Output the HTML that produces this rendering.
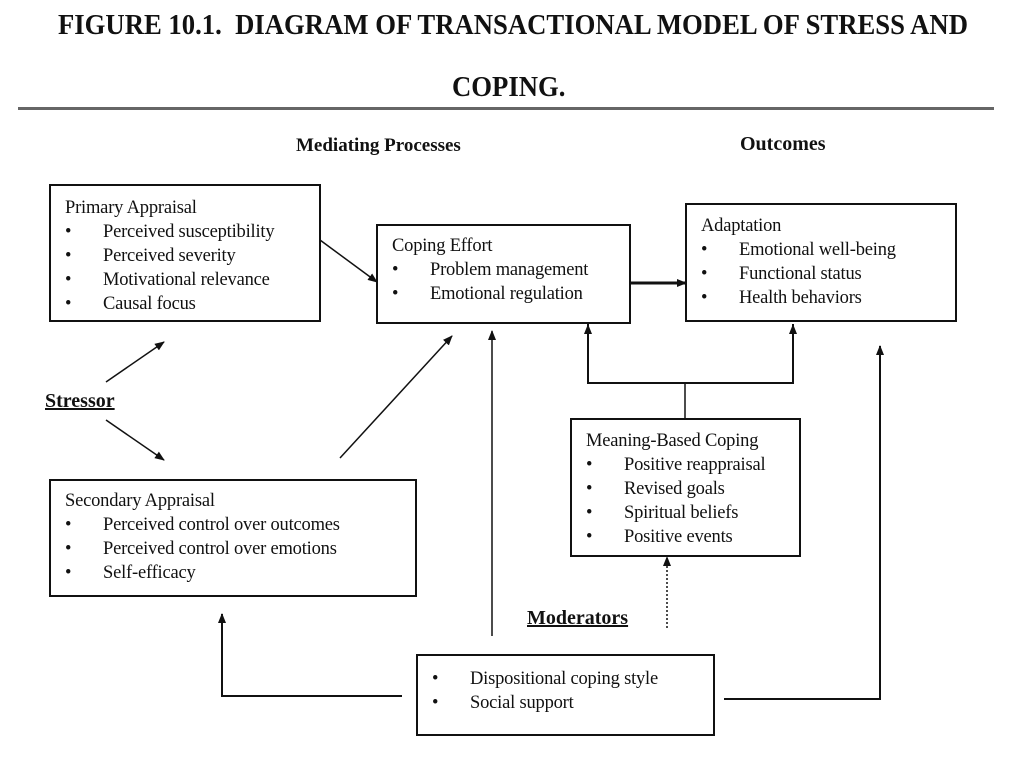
<!DOCTYPE html>
<html><head><meta charset="utf-8"><style>
body{margin:0;width:1024px;height:768px;background:#fff;position:relative;overflow:hidden;font-family:"Liberation Serif",serif;color:#111}
.t{position:absolute;white-space:nowrap}
.b{position:absolute;border:2px solid #111;box-sizing:border-box;background:#fff;font-size:18.5px;line-height:24px;padding:8px 14px;letter-spacing:-0.2px}
.b ul{margin:0;padding:0;list-style:none}
.b li{position:relative;padding-left:38px}
.b li:before{content:"•";position:absolute;left:0}
.h{font-weight:bold;font-size:29px;transform:scaleX(0.92);transform-origin:0 0}
.l{font-weight:bold;font-size:19px}
</style></head><body>
<div class="t h" style="left:58px;top:9px">FIGURE 10.1.&nbsp; DIAGRAM OF TRANSACTIONAL MODEL OF STRESS AND</div>
<div class="t h" style="left:452px;top:71px">COPING.</div>
<div style="position:absolute;left:18px;top:107px;width:976px;height:3px;background:#666"></div>
<div class="t l" style="left:296px;top:135px">Mediating Processes</div>
<div class="t l" style="left:740px;top:133px;font-size:20px">Outcomes</div>
<div class="t l" style="left:45px;top:390px;font-size:20px;text-decoration:underline">Stressor</div>
<div class="t l" style="left:527px;top:607px;font-size:20px;text-decoration:underline">Moderators</div>
<svg width="1024" height="768" style="position:absolute;left:0;top:0">
<defs><marker id="a" markerWidth="10" markerHeight="10" refX="9" refY="5" orient="auto" markerUnits="userSpaceOnUse"><path d="M0,1 L10,5 L0,9 z" fill="#111"/></marker></defs>
<g stroke="#111" stroke-width="1.5" fill="none">
<line x1="320" y1="240" x2="377" y2="282" marker-end="url(#a)"/>
<line x1="630" y1="283" x2="686" y2="283" stroke-width="3" marker-end="url(#a)"/>
<line x1="106" y1="382" x2="164" y2="342" marker-end="url(#a)"/>
<line x1="106" y1="420" x2="164" y2="460" marker-end="url(#a)"/>
<line x1="340" y1="458" x2="452" y2="336" marker-end="url(#a)"/>
<line x1="492" y1="636" x2="492" y2="331" marker-end="url(#a)"/>
<line x1="685" y1="418" x2="685" y2="383"/>
<polyline points="588,324 588,383 793,383 793,324" stroke-width="2"/>
<line x1="588" y1="340" x2="588" y2="325" marker-end="url(#a)"/>
<line x1="793" y1="340" x2="793" y2="325" marker-end="url(#a)"/>
<line x1="667" y1="628" x2="667" y2="557" stroke-dasharray="2,2" marker-end="url(#a)"/>
<polyline points="402,696 222,696 222,614" stroke-width="2" marker-end="url(#a)"/>
<polyline points="724,699 880,699 880,346" stroke-width="2" marker-end="url(#a)"/>
</g></svg>
<div class="b" style="left:49px;top:184px;width:272px;height:138px;padding-top:10px">Primary Appraisal<ul><li>Perceived susceptibility</li><li>Perceived severity</li><li>Motivational relevance</li><li>Causal focus</li></ul></div>
<div class="b" style="left:376px;top:224px;width:255px;height:100px;padding-top:8px">Coping Effort<ul><li>Problem management</li><li>Emotional regulation</li></ul></div>
<div class="b" style="left:685px;top:203px;width:272px;height:119px;padding-top:9px">Adaptation<ul><li>Emotional well-being</li><li>Functional status</li><li>Health behaviors</li></ul></div>
<div class="b" style="left:570px;top:418px;width:231px;height:139px;padding-top:9px">Meaning-Based Coping<ul><li>Positive reappraisal</li><li>Revised goals</li><li>Spiritual beliefs</li><li>Positive events</li></ul></div>
<div class="b" style="left:49px;top:479px;width:368px;height:118px;padding-top:8px">Secondary Appraisal<ul><li>Perceived control over outcomes</li><li>Perceived control over emotions</li><li>Self-efficacy</li></ul></div>
<div class="b" style="left:416px;top:654px;width:299px;height:82px;padding-top:11px"><ul><li>Dispositional coping style</li><li>Social support</li></ul></div>
</body></html>
